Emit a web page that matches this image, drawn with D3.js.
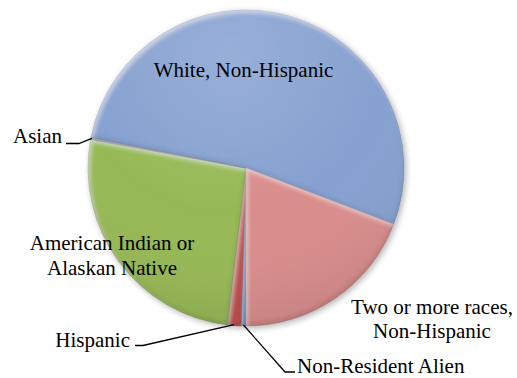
<!DOCTYPE html>
<html><head><meta charset="utf-8">
<script src="https://cdn.jsdelivr.net/npm/d3@7/dist/d3.min.js"></script>
</head><body style="margin:0;background:#fff"><svg id="c" width="517" height="378"></svg>
<script>
const categories = ["Non-Resident Alien","Hispanic","American Indian or Alaskan Native","Asian","White, Non-Hispanic","Two or more races, Non-Hispanic"];
const values = [0.5, 1.4, 26.0, 0.2, 52.7, 19.2];
const colors = ["#4f81bd","#c0504d","#97b955","#8064a2","#86a1d0","#d98d8c"];

const svg = d3.select("#c");
const cx = 246, cy = 168, R = 158;
const defs = svg.append("defs");

// inner bevel: light top-left edges, dark bottom-right edges
const f = defs.append("filter").attr("id","bevel").attr("x","-5%").attr("y","-5%").attr("width","110%").attr("height","110%");
f.append("feGaussianBlur").attr("in","SourceAlpha").attr("stdDeviation",2.2).attr("result","b");
f.append("feOffset").attr("in","b").attr("dx",1.5).attr("dy",3).attr("result","bo1");
f.append("feComposite").attr("in","SourceAlpha").attr("in2","bo1").attr("operator","out").attr("result","hiM");
f.append("feFlood").attr("flood-color","#ffffff").attr("flood-opacity",0.45).attr("result","wf");
f.append("feComposite").attr("in","wf").attr("in2","hiM").attr("operator","in").attr("result","hi");
f.append("feOffset").attr("in","b").attr("dx",-1.5).attr("dy",-3).attr("result","bo2");
f.append("feComposite").attr("in","SourceAlpha").attr("in2","bo2").attr("operator","out").attr("result","shM");
f.append("feFlood").attr("flood-color","#000000").attr("flood-opacity",0.22).attr("result","bf");
f.append("feComposite").attr("in","bf").attr("in2","shM").attr("operator","in").attr("result","sd");
const fm = f.append("feMerge");
fm.append("feMergeNode").attr("in","SourceGraphic");
fm.append("feMergeNode").attr("in","hi");
fm.append("feMergeNode").attr("in","sd");

const sh = defs.append("filter").attr("id","shadow").attr("x","-20%").attr("y","-20%").attr("width","140%").attr("height","140%");
sh.append("feGaussianBlur").attr("in","SourceAlpha").attr("stdDeviation",3).attr("result","b");
sh.append("feOffset").attr("in","b").attr("dx",2).attr("dy",2).attr("result","o");
sh.append("feComponentTransfer").attr("in","o").attr("result","o2").append("feFuncA").attr("type","linear").attr("slope",0.3);
const m = sh.append("feMerge"); m.append("feMergeNode").attr("in","o2"); m.append("feMergeNode").attr("in","SourceGraphic");

const lg = defs.append("radialGradient").attr("id","shade").attr("cx","45%").attr("cy","15%").attr("r","90%");
lg.append("stop").attr("offset","0%").attr("stop-color","#fff").attr("stop-opacity",0.15);
lg.append("stop").attr("offset","55%").attr("stop-color","#fff").attr("stop-opacity",0);
lg.append("stop").attr("offset","100%").attr("stop-color","#000").attr("stop-opacity",0.10);

const pie = d3.pie().sort(null).startAngle(Math.PI).endAngle(3*Math.PI).value(d=>d);
const arcs = pie(values);
const arc = d3.arc().innerRadius(0).outerRadius(R);

const g = svg.append("g").attr("transform",`translate(${cx},${cy})`);
const pg = g.append("g").attr("filter","url(#shadow)");
pg.selectAll("path.s").data(arcs).enter().append("path").attr("class","s")
  .attr("d",arc).attr("fill",(d,i)=>colors[i]).attr("filter","url(#bevel)")
  .attr("stroke",(d,i)=>d3.color(colors[i]).darker(0.8)).attr("stroke-width",0.5);
g.append("circle").attr("r",R).attr("fill","url(#shade)").attr("pointer-events","none");

function txt(x,y,s,anchor){svg.append("text").attr("x",x).attr("y",y).attr("text-anchor",anchor)
  .attr("font-size",21).attr("fill","#000").attr("font-family","'Liberation Serif', 'Times New Roman', Times, serif").text(s);}
txt(243.5,77,categories[4],"middle");
txt(62,143,categories[3],"end");
txt(112,250,"American Indian or","middle");
txt(112,275,"Alaskan Native","middle");
txt(432,314,"Two or more races,","middle");
txt(432,338,"Non-Hispanic","middle");
txt(130,347,categories[1],"end");
txt(297,373,categories[0],"start");

function rimPt(a){return [cx+R*Math.sin(a), cy-R*Math.cos(a)];}
const mid = d=> (d.startAngle+d.endAngle)/2;
const line = d3.line();
const pA = rimPt(mid(arcs[3]));
const pH = rimPt(mid(arcs[1]));
const pN = rimPt(mid(arcs[0]));
const leaders = [
  [[66,143.5],[79,143.5],[pA[0]+1,pA[1]]],
  [[135,345.5],[143,345.5],[pH[0],pH[1]-1]],
  [[pN[0],pN[1]-1],[285,372],[295,372]]
];
svg.selectAll("path.l").data(leaders).enter().append("path").attr("class","l")
  .attr("d",line).attr("fill","none").attr("stroke","#000").attr("stroke-width",1.3);
</script></body></html>
